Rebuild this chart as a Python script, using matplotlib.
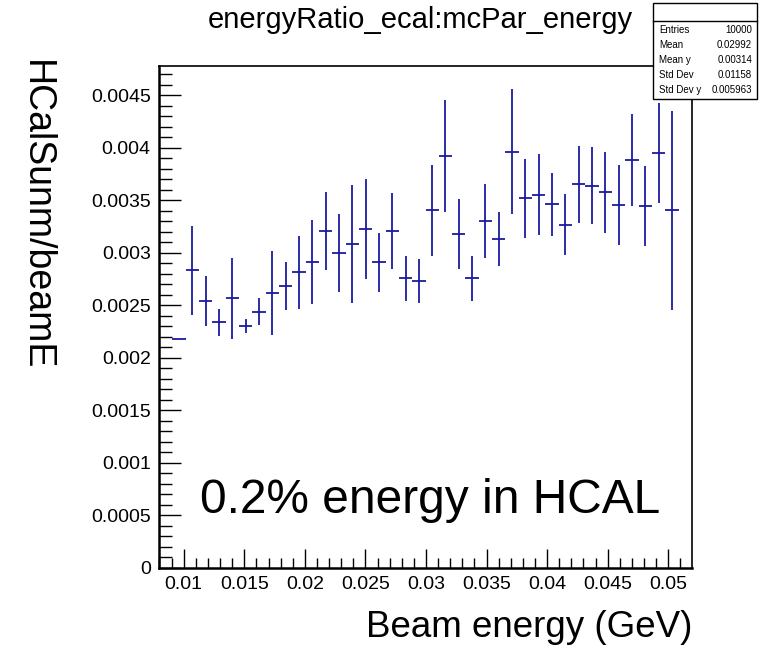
import matplotlib
matplotlib.use("Agg")
import matplotlib.pyplot as plt
from matplotlib.ticker import MultipleLocator, FuncFormatter

plt.rcParams['font.family'] = ['Liberation Sans', 'DejaVu Sans']

# profile bins (beam energy, GeV)
beam_e = [0.00961, 0.01071, 0.01181, 0.01291, 0.01401, 0.01511, 0.01621, 0.01731,
          0.01841, 0.01951, 0.02061, 0.02171, 0.02281, 0.02391, 0.02501, 0.02611,
          0.02721, 0.02831, 0.02941, 0.03051, 0.03161, 0.03271, 0.03381, 0.03491,
          0.03601, 0.03711, 0.03821, 0.03931, 0.04041, 0.04151, 0.04261, 0.04371,
          0.04481, 0.04591, 0.04701, 0.04811, 0.04921, 0.05031]
half_bin = 0.00055

ratio = [0.002179, 0.002836, 0.002541, 0.002341, 0.002567, 0.002303, 0.002440, 0.002614,
         0.002688, 0.002814, 0.002912, 0.003208, 0.002998, 0.003084, 0.003230, 0.002910,
         0.003208, 0.002760, 0.002735, 0.003405, 0.003926, 0.003183, 0.002760, 0.003307,
         0.003131, 0.003964, 0.003519, 0.003554, 0.003465, 0.003269, 0.003652, 0.003640,
         0.003576, 0.003452, 0.003888, 0.003443, 0.003950, 0.003405]

ratio_err = [0.0, 0.000425, 0.000241, 0.000129, 0.000382, 0.000067, 0.000129, 0.000400,
             0.000227, 0.000346, 0.000397, 0.000368, 0.000368, 0.000563, 0.000476, 0.000278,
             0.000359, 0.000214, 0.000211, 0.000435, 0.000532, 0.000333, 0.000214, 0.000352,
             0.000259, 0.000593, 0.000378, 0.000386, 0.000300, 0.000289, 0.000370, 0.000364,
             0.000388, 0.000381, 0.000438, 0.000381, 0.000473, 0.000944]

stats_names = ['Entries', 'Mean', 'Mean y', 'Std Dev', 'Std Dev y']
stats_vals = ['10000', '0.02992', '0.00314', '0.01158', '0.005963']

W, H = 761, 645
fig = plt.figure(figsize=(W / 100, H / 100), dpi=100)
ax = fig.add_axes([159 / W, 1 - 568 / H, (692 - 159) / W, (568 - 66) / H])

ax.errorbar(beam_e, ratio, xerr=half_bin, yerr=ratio_err, fmt='none',
            ecolor='#1a1aa0', elinewidth=1.3, capsize=0)

ax.set_xlim(0.00796, 0.05196)
ax.set_ylim(0, 0.00478)

ax.xaxis.set_major_locator(MultipleLocator(0.005))
ax.xaxis.set_minor_locator(MultipleLocator(0.001))
ax.yaxis.set_major_locator(MultipleLocator(0.0005))
ax.yaxis.set_minor_locator(MultipleLocator(0.0001))

fmt = FuncFormatter(lambda v, p: '0' if abs(v) < 1e-12 else ('%.4f' % v).rstrip('0'))
ax.xaxis.set_major_formatter(fmt)
ax.yaxis.set_major_formatter(fmt)

ax.tick_params(which='both', direction='in', top=False, right=False,
               labelsize=14, width=1)
ax.tick_params(axis='y', which='major', length=16, pad=6)
ax.tick_params(axis='y', which='minor', length=9)
ax.tick_params(axis='x', which='major', length=14, pad=6)
ax.tick_params(axis='x', which='minor', length=7)
for s in ax.spines.values():
    s.set_linewidth(1.2)
ax.spines['left'].set_linewidth(1.8)
ax.spines['bottom'].set_linewidth(1.8)

# title and axis titles
fig.text(420 / W, 1 - 28 / H, 'energyRatio_ecal:mcPar_energy', ha='center',
         va='baseline', fontsize=21)
fig.text(692 / W, 1 - 637 / H, 'Beam energy (GeV)', ha='right', va='baseline',
         fontsize=26.5)
fig.text(36 / W, 1 - 60 / H, 'HCalSunm/beamE', rotation=-90, ha='center', va='top',
         fontsize=27)

ax.text(200 / W, 1 - 513 / H, '0.2% energy in HCAL', transform=fig.transFigure,
        ha='left', va='baseline', fontsize=34.5)

# stats box
bx0, bx1, by0, by1, bsep = 653, 757, 3, 99, 21
box = plt.Rectangle((bx0 / W, 1 - by1 / H), (bx1 - bx0) / W, (by1 - by0) / H,
                    transform=fig.transFigure, facecolor='white', edgecolor='black',
                    linewidth=1, zorder=5)
fig.add_artist(box)
fig.add_artist(plt.Line2D([bx0 / W, bx1 / W], [1 - bsep / H, 1 - bsep / H],
                          transform=fig.transFigure, color='black', linewidth=1, zorder=6))
row_y = [30, 45, 60, 75, 90]
for name, val, yy in zip(stats_names, stats_vals, row_y):
    fig.text(659 / W, 1 - yy / H, name, ha='left', va='center', fontsize=7, zorder=7)
    fig.text(752 / W, 1 - yy / H, val, ha='right', va='center', fontsize=7, zorder=7)

fig.savefig('out.png', dpi=100)
